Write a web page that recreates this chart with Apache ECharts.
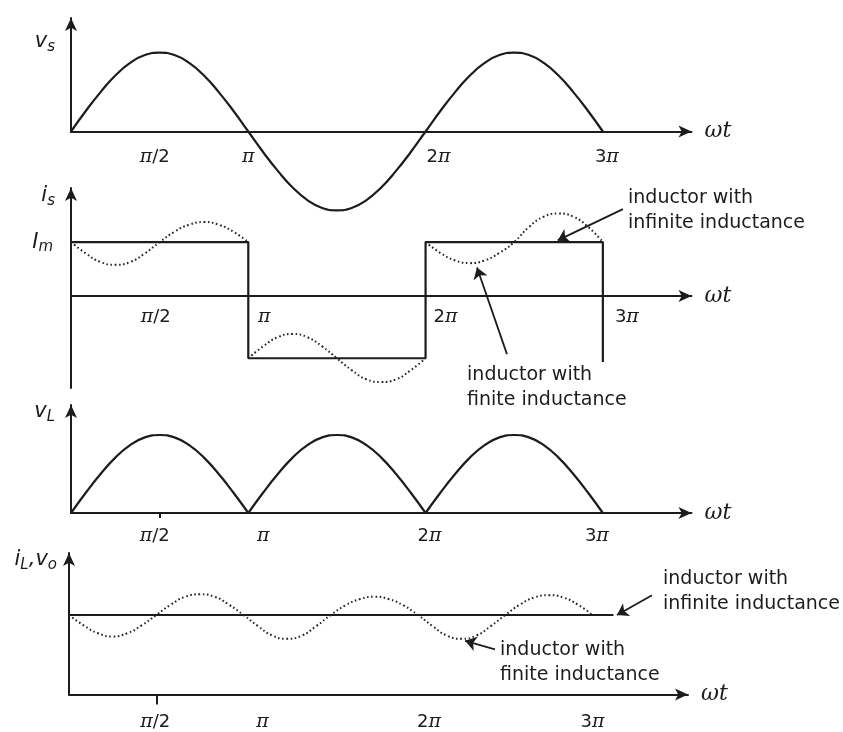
<!DOCTYPE html>
<html><head><meta charset="utf-8">
<script src="https://cdn.jsdelivr.net/npm/echarts@6/dist/echarts.min.js"></script>
<style>html,body{margin:0;padding:0;background:#fff}#c{width:843px;height:732px}</style>
</head><body><div id="c"></div>
<script>
// ---- data (x in units of pi) ----
const theta = [0,0.0833,0.1667,0.25,0.3333,0.4167,0.5,0.5833,0.6667,0.75,0.8333,0.9167,1,1.0833,1.1667,1.25,1.3333,1.4167,1.5,1.5833,1.6667,1.75,1.8333,1.9167,2,2.0833,2.1667,2.25,2.3333,2.4167,2.5,2.5833,2.6667,2.75,2.8333,2.9167,3];
const vs = [0,0.26,0.5,0.71,0.87,0.97,1,0.97,0.87,0.71,0.5,0.26,0,-0.26,-0.5,-0.71,-0.87,-0.97,-1,-0.97,-0.87,-0.71,-0.5,-0.26,0,0.26,0.5,0.71,0.87,0.97,1,0.97,0.87,0.71,0.5,0.26,0];
const vL = [0,0.26,0.5,0.71,0.87,0.97,1,0.97,0.87,0.71,0.5,0.26,0,0.26,0.5,0.71,0.87,0.97,1,0.97,0.87,0.71,0.5,0.26,0,0.26,0.5,0.71,0.87,0.97,1,0.97,0.87,0.71,0.5,0.26,0];
const isInfiniteX = [0,1,1,2,2,3,3];
const isInfiniteY = [1,1,-1.15,-1.15,1,1,-1.22];
const isFinite1 = [1,0.79,0.63,0.58,0.63,0.79,1,1.19,1.32,1.37,1.32,1.19,1];
const isFinite2 = [-1.15,-0.93,-0.76,-0.70,-0.76,-0.93,-1.15,-1.37,-1.54,-1.59,-1.54,-1.37,-1.15];
const isFinite3 = [1,0.8,0.66,0.61,0.66,0.8,1,1.28,1.47,1.53,1.47,1.28,1];
const iLInfiniteX = [0,3.12];
const iLInfiniteY = [1,1];
const iLFinite = [1,0.87,0.77,0.73,0.77,0.87,1,1.13,1.23,1.26,1.23,1.13,1,0.86,0.74,0.70,0.74,0.86,1,1.12,1.20,1.23,1.20,1.12,1,0.86,0.74,0.70,0.74,0.86,1,1.13,1.22,1.25,1.22,1.13,1];
const tickValues = [0.5,1,2,3];
const tickLabels = ['π/2','π','2π','3π'];

// ---- annotations (data coordinates) ----
const ann2 = [
  {text:'inductor with\ninfinite inductance', at:[3.142,1.582], from:[3.113,1.61], to:[2.745,1.03]},
  {text:'inductor with\nfinite inductance', at:[2.234,-1.684], from:[2.459,-1.073], to:[2.29,0.53]}
];
const ann4 = [
  {text:'inductor with\ninfinite inductance', at:[3.404,1.292], from:[3.341,1.248], to:[3.14,1.0]},
  {text:'inductor with\nfinite inductance', at:[2.47,0.408], from:[2.441,0.568], to:[2.27,0.675]}
];

const INK = '#1c1c1c';
const labelShift = [[-5,0,13,4],[-4,16,20,24],[-5,15,4,-6],[-1,19,11,0]];
const labelMargin = [16,11.5,13.5,18.5];

const tickRich = {
  n:{fontFamily:'DejaVu Sans',fontSize:18,color:INK},
  p:{fontFamily:'DejaVu Serif',fontStyle:'italic',fontSize:19,color:INK}
};
labelShift.forEach(r=>r.forEach(d=>{const w=Math.abs(d)*2; if(w) tickRich['s'+w]={width:w,fontSize:18};}));

function tickFormatter(panel){
  return function(val){
    const i = tickValues.findIndex(t=>Math.abs(t-val)<1e-6);
    if(i<0) return '';
    let s = '';
    for(const c of tickLabels[i]) s += (c==='π') ? '{p|π}' : '{n|'+c+'}';
    const d = labelShift[panel][i];
    if(d>0) s = '{s'+(2*d)+'| }'+s;
    if(d<0) s = s+'{s'+(-2*d)+'| }';
    return s;
  };
}

const nameRich = {
  v:{fontFamily:'DejaVu Sans',fontStyle:'italic',fontSize:21,color:INK,lineHeight:26,verticalAlign:'middle'},
  s:{fontFamily:'DejaVu Sans',fontStyle:'italic',fontSize:15,color:INK,lineHeight:15,verticalAlign:'bottom'}
};

const grids = [
  {left:71, top:18,  width:620.5, height:113.5},
  {left:71, top:188, width:620.5, height:200},
  {left:71, top:405, width:620.5, height:108},
  {left:69, top:553, width:619,   height:144}
];
const xMax = [3.5,3.5,3.5,3.547];
const yRange = [[0,1.44],[-1.7,2.0],[0,1.385],[0,1.78]];
const xOffset = [0,-92,0,0];
const yNames = ['{v|v}{s|s}','{v|i}{s|s}','{v|v}{s|L}','{v|i}{s|L}{v|,v}{s|o}'];
const yNameGap = [-24,-8,-7,-7];
const yNamePad = [16,16,16,12];

const xAxes = grids.map((g,k)=>({
  type:'value', gridIndex:k, min:0, max:xMax[k], offset:xOffset[k],
  axisLine:{show:true,onZero:false,symbol:['none','arrow'],symbolSize:[9,13],lineStyle:{color:INK,width:2}},
  splitLine:{show:false},
  axisTick:(k>=2)?{show:true,customValues:[0.5],length:(k===3?10:5),lineStyle:{color:INK,width:2}}:{show:false},
  axisLabel:{show:true,customValues:tickValues,formatter:tickFormatter(k),margin:labelMargin[k],rich:tickRich,hideOverlap:false},
  name:'ωt', nameLocation:'end', nameGap:13,
  nameTextStyle:{fontFamily:'DejaVu Serif',fontStyle:'italic',fontSize:22,color:INK,verticalAlign:'middle'}
}));

const yAxes = grids.map((g,k)=>({
  type:'value', gridIndex:k, min:yRange[k][0], max:yRange[k][1],
  axisLine:{show:true,onZero:false,symbol:['none','arrow'],symbolSize:[9,13],lineStyle:{color:INK,width:2}},
  splitLine:{show:false}, axisTick:{show:false},
  axisLabel:(k===1)?{show:true,customValues:[1],margin:18,formatter:()=>'{v|I}{s|m}',rich:nameRich}:{show:false},
  name:yNames[k], nameLocation:'end', nameGap:yNameGap[k], nameMoveOverlap:false,
  nameTextStyle:{align:'right',verticalAlign:'middle',padding:[0,yNamePad[k],0,0],rich:nameRich}
}));

const solid = {color:INK,width:2.2};
const dotted = {color:'#222',width:2,type:[1.6,2.6]};
function pairs(xs,ys){return xs.map((x,i)=>[x,ys[i]]);}
function base(k,data,style,smooth){
  return {type:'line',xAxisIndex:k,yAxisIndex:k,data:data,showSymbol:false,symbol:'none',
    smooth:smooth,clip:false,lineStyle:style,emphasis:{disabled:true},silent:true,z:3};
}
function annotate(series,anns){
  series.markLine = {silent:true,symbol:['none','arrow'],symbolSize:11,animation:false,
    label:{show:false},emphasis:{disabled:true},
    lineStyle:{type:'solid',color:INK,width:1.8},
    data:anns.map(a=>[{coord:a.from},{coord:a.to}])};
  series.markPoint = {silent:true,symbol:'circle',symbolSize:0,animation:false,
    data:anns.map(a=>({coord:a.at,label:{show:true,position:'right',distance:0,formatter:a.text,
      fontFamily:'DejaVu Sans',fontSize:19,lineHeight:25,color:INK,align:'left'}}))};
  return series;
}

const series = [
  base(0,pairs(theta,vs),solid,0.5),
  annotate(base(1,pairs(isInfiniteX,isInfiniteY),solid,false),ann2),
  base(1,pairs(theta.slice(0,13),isFinite1),dotted,0.5),
  base(1,pairs(theta.slice(12,25),isFinite2),dotted,0.5),
  base(1,pairs(theta.slice(24,37),isFinite3),dotted,0.5),
  base(2,pairs(theta.slice(0,13),vL.slice(0,13)),solid,0.5),
  base(2,pairs(theta.slice(12,25),vL.slice(12,25)),solid,0.5),
  base(2,pairs(theta.slice(24,37),vL.slice(24,37)),solid,0.5),
  annotate(base(3,pairs(iLInfiniteX,iLInfiniteY),solid,false),ann4),
  base(3,pairs(theta,iLFinite),dotted,0.5)
];

const chart = echarts.init(document.getElementById('c'),null,{renderer:'canvas'});
chart.setOption({
  animation:false, backgroundColor:'#fff',
  grid:grids, xAxis:xAxes, yAxis:yAxes, series:series
});
</script></body></html>
